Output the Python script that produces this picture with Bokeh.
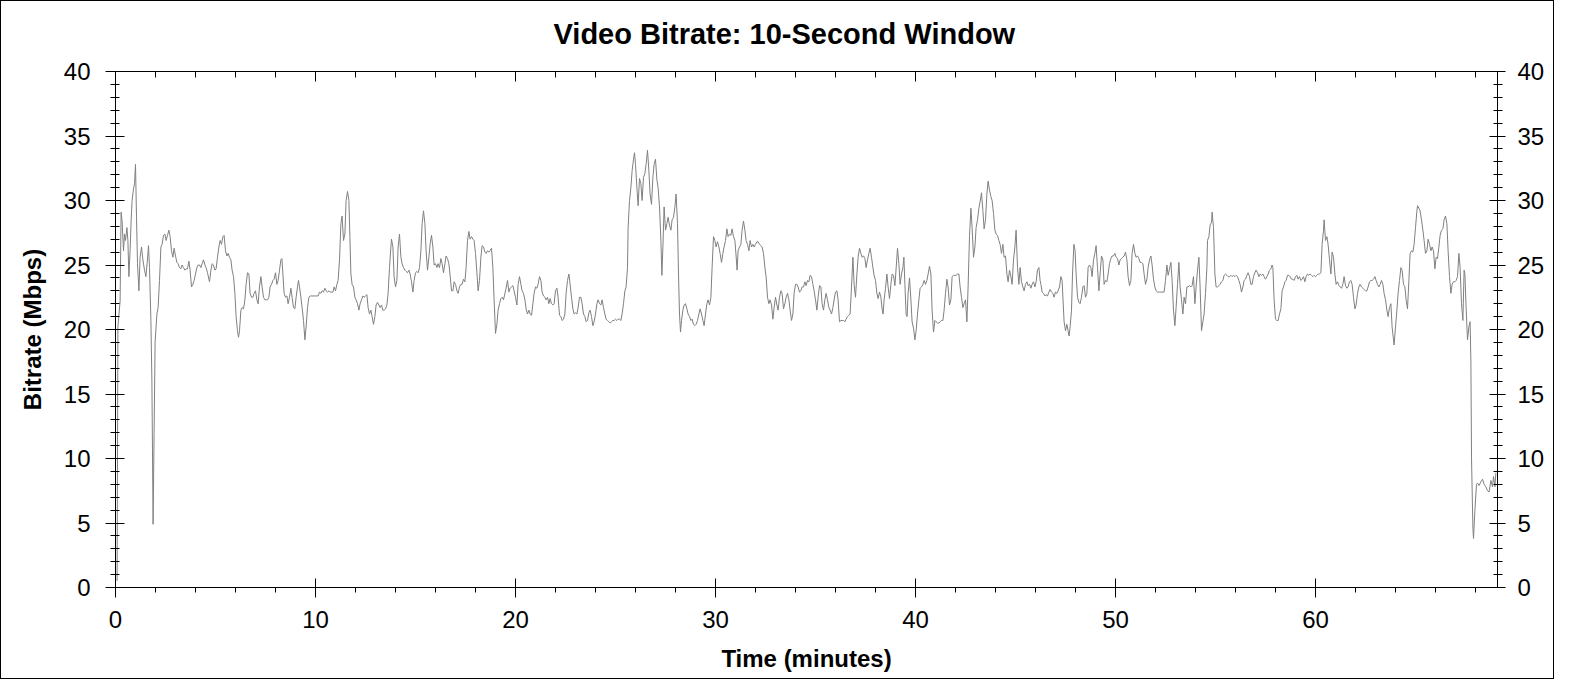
import numpy as np
from bokeh.plotting import figure
from bokeh.models import Range1d, LinearAxis, SingleIntervalTicker, Title
from bokeh.embed import file_html
from bokeh.resources import INLINE

# ---- data (minutes, Mbps) ----
t_00_11 = [
    0.08, 0.12, 0.23, 0.28, 0.33, 0.40, 0.45, 0.50, 0.57, 0.62,
    0.67, 0.73, 0.78, 0.83, 0.90, 0.95, 1.00, 1.05, 1.10, 1.17,
    1.23, 1.30, 1.37, 1.45, 1.52, 1.58, 1.65, 1.70, 1.77, 1.82,
    1.88, 1.93, 1.98, 2.07, 2.13, 2.20, 2.27, 2.33, 2.40, 2.47,
    2.53, 2.60, 2.67, 2.73, 2.80, 2.87, 2.93, 3.00, 3.07, 3.13,
    3.20, 3.27, 3.33, 3.40, 3.47, 3.53, 3.60, 3.67, 3.73, 3.80,
    3.87, 3.93, 4.00, 4.07, 4.13, 4.20, 4.27, 4.33, 4.40, 4.47,
    4.53, 4.60, 4.70, 4.77, 4.83, 4.90, 4.97, 5.03, 5.10, 5.17,
    5.23, 5.30, 5.37, 5.43, 5.50, 5.57, 5.63, 5.70, 5.77, 5.83,
    5.90, 5.97, 6.03, 6.10, 6.15, 6.20, 6.27, 6.33, 6.40, 6.47,
    6.53, 6.60, 6.67, 6.73, 6.80, 6.87, 6.93, 7.00, 7.07, 7.13,
    7.20, 7.27, 7.33, 7.40, 7.47, 7.53, 7.60, 7.67, 7.73, 7.80,
    7.87, 7.93, 8.00, 8.07, 8.13, 8.20, 8.27, 8.32, 8.37, 8.43,
    8.50, 8.57, 8.63, 8.70, 8.77, 8.83, 8.90, 8.97, 9.03, 9.10,
    9.15, 9.20, 9.27, 9.33, 9.40, 9.47, 9.53, 9.60, 9.67, 9.73,
    9.80, 9.93, 10.07, 10.13, 10.20, 10.27, 10.33, 10.40, 10.47, 10.53,
    10.60, 10.67, 10.73, 10.80, 10.87, 10.93, 11.00, 11.07, 11.13, 11.20,
    11.27, 11.33, 11.40,
]
v_00_11 = [
    0.5, 20.2, 22.2, 29.1, 28.4, 26.1, 27.4, 26.9, 27.9, 26.9,
    24.1, 26.1, 28.4, 30.0, 30.9, 31.3, 32.8, 28.7, 25.1, 23.0,
    25.6, 26.4, 25.4, 24.6, 24.1, 25.1, 26.5, 24.8, 20.7, 16.0,
    4.9, 12.0, 19.0, 21.2, 21.7, 23.8, 26.4, 26.6, 27.3, 27.4,
    26.9, 27.3, 27.7, 27.2, 26.1, 25.6, 26.3, 25.7, 25.2, 25.1,
    24.8, 24.7, 25.0, 24.8, 24.6, 24.7, 24.7, 25.3, 24.6, 23.3,
    23.5, 23.8, 24.3, 24.8, 25.0, 25.0, 24.8, 25.1, 25.4, 25.0,
    24.8, 24.4, 23.7, 24.6, 25.1, 25.0, 24.6, 24.7, 25.6, 26.4,
    26.9, 26.6, 27.2, 27.3, 26.1, 25.7, 25.9, 25.6, 25.4, 24.6,
    24.1, 22.8, 21.0, 19.9, 19.4, 19.9, 21.5, 21.7, 21.6, 22.3,
    23.5, 24.4, 24.3, 22.8, 22.5, 22.5, 22.8, 23.0, 22.3, 22.0,
    23.3, 24.1, 23.3, 22.5, 22.3, 22.3, 22.3, 22.5, 23.3, 23.5,
    23.8, 23.9, 24.4, 23.5, 23.8, 24.6, 25.4, 25.5, 24.3, 22.8,
    22.5, 22.6, 22.0, 22.5, 23.2, 22.5, 21.7, 21.6, 22.5, 23.3,
    23.8, 23.3, 22.5, 21.7, 20.7, 19.2, 20.2, 21.7, 22.5, 22.6,
    22.6, 22.6, 22.6, 22.6, 22.9, 22.8, 23.0, 22.9, 23.2, 23.0,
    22.9, 23.0, 22.9, 22.9, 22.9, 23.3, 23.0, 23.5, 23.8, 25.4,
    28.2, 28.8, 26.9,
]

t_11_23 = [
    11.47, 11.53, 11.60, 11.67, 11.72, 11.77, 11.83, 11.90, 11.97, 12.03,
    12.10, 12.17, 12.23, 12.30, 12.37, 12.43, 12.50, 12.57, 12.63, 12.70,
    12.77, 12.83, 12.90, 12.97, 13.03, 13.10, 13.17, 13.23, 13.30, 13.37,
    13.43, 13.50, 13.57, 13.63, 13.70, 13.77, 13.80, 13.87, 13.93, 14.00,
    14.07, 14.13, 14.20, 14.27, 14.33, 14.40, 14.47, 14.53, 14.60, 14.67,
    14.73, 14.80, 14.87, 14.93, 15.00, 15.07, 15.13, 15.20, 15.27, 15.33,
    15.40, 15.47, 15.53, 15.60, 15.67, 15.73, 15.80, 15.87, 15.93, 16.00,
    16.07, 16.13, 16.20, 16.27, 16.33, 16.40, 16.47, 16.53, 16.60, 16.67,
    16.73, 16.80, 16.87, 16.93, 17.00, 17.07, 17.13, 17.20, 17.27, 17.33,
    17.40, 17.47, 17.53, 17.60, 17.67, 17.73, 17.80, 17.87, 17.93, 18.00,
    18.07, 18.13, 18.20, 18.27, 18.33, 18.40, 18.47, 18.53, 18.60, 18.67,
    18.73, 18.80, 18.87, 18.93, 19.00, 19.07, 19.13, 19.20, 19.27, 19.33,
    19.40, 19.47, 19.53, 19.60, 19.67, 19.73, 19.80, 19.87, 19.93, 20.00,
    20.07, 20.13, 20.20, 20.27, 20.33, 20.40, 20.47, 20.53, 20.60, 20.67,
    20.73, 20.80, 20.87, 20.93, 21.00, 21.07, 21.13, 21.20, 21.27, 21.33,
    21.40, 21.47, 21.53, 21.60, 21.67, 21.73, 21.80, 21.87, 21.93, 22.00,
    22.07, 22.13, 22.20, 22.27, 22.33, 22.40, 22.47, 22.53, 22.60, 22.67,
    22.73, 22.80, 22.87, 22.93, 23.00, 23.07,
]
v_11_23 = [
    27.4, 30.0, 30.7, 30.0, 27.2, 24.3, 23.5, 23.3, 22.5, 22.3,
    22.0, 21.5, 22.0, 22.3, 22.6, 22.5, 22.6, 22.7, 21.7, 21.2,
    21.5, 21.0, 20.4, 21.0, 21.9, 22.1, 21.9, 21.7, 21.9, 21.5,
    21.5, 21.6, 21.9, 22.8, 24.8, 26.4, 27.0, 26.4, 24.1, 23.3,
    23.8, 26.4, 27.4, 25.6, 25.1, 24.8, 24.6, 24.5, 24.4, 24.6,
    24.3, 23.7, 22.9, 23.8, 24.4, 24.5, 24.4, 24.8, 26.1, 28.2,
    29.2, 28.2, 26.1, 24.6, 25.6, 26.6, 27.3, 26.4, 25.0, 25.1,
    24.8, 25.1, 24.8, 25.5, 25.1, 24.4, 25.1, 25.7, 25.5, 25.1,
    24.2, 23.0, 23.0, 23.7, 23.5, 23.0, 22.8, 23.3, 23.5, 23.5,
    23.9, 23.7, 24.8, 26.9, 27.6, 27.0, 27.2, 27.0, 26.9, 25.9,
    24.4, 23.0, 23.8, 25.6, 26.5, 26.4, 26.0, 25.9, 26.1, 26.0,
    26.1, 26.3, 24.8, 22.3, 19.7, 20.4, 21.5, 22.0, 22.4, 22.5,
    22.3, 22.8, 23.2, 23.8, 22.9, 23.2, 23.3, 23.4, 23.0, 22.5,
    21.9, 23.5, 24.1, 23.5, 23.0, 22.8, 22.3, 21.6, 21.2, 21.5,
    21.2, 21.1, 22.0, 22.8, 23.3, 23.2, 23.5, 24.1, 23.8, 22.9,
    22.6, 22.5, 22.3, 22.5, 22.0, 22.4, 22.0, 21.9, 22.0, 23.0,
    23.2, 22.5, 21.1, 21.0, 20.7, 20.8, 21.2, 22.8, 23.8, 24.3,
    23.5, 22.5, 21.6, 21.2, 21.3, 21.2,
]

t_23_35 = [
    23.13, 23.20, 23.27, 23.33, 23.40, 23.47, 23.53, 23.60, 23.67, 23.73,
    23.80, 23.87, 23.93, 24.00, 24.07, 24.13, 24.20, 24.27, 24.33, 24.40,
    24.47, 24.53, 24.60, 24.67, 24.73, 24.80, 24.87, 24.93, 25.00, 25.07,
    25.13, 25.20, 25.27, 25.33, 25.40, 25.47, 25.53, 25.60, 25.63, 25.70,
    25.77, 25.83, 25.90, 25.95, 26.00, 26.07, 26.13, 26.20, 26.27, 26.33,
    26.40, 26.47, 26.53, 26.60, 26.67, 26.73, 26.80, 26.87, 26.93, 27.00,
    27.07, 27.13, 27.20, 27.27, 27.32, 27.37, 27.43, 27.50, 27.57, 27.63,
    27.70, 27.77, 27.83, 27.90, 27.97, 28.03, 28.10, 28.15, 28.20, 28.25,
    28.30, 28.37, 28.43, 28.50, 28.57, 28.63, 28.70, 28.77, 28.83, 28.90,
    28.97, 29.03, 29.10, 29.17, 29.23, 29.30, 29.37, 29.43, 29.50, 29.57,
    29.63, 29.70, 29.77, 29.83, 29.90, 29.97, 30.03, 30.10, 30.17, 30.23,
    30.30, 30.37, 30.43, 30.50, 30.57, 30.63, 30.70, 30.77, 30.83, 30.90,
    30.97, 31.03, 31.08, 31.13, 31.20, 31.27, 31.33, 31.40, 31.47, 31.53,
    31.60, 31.67, 31.73, 31.80, 31.87, 31.93, 32.00, 32.07, 32.13, 32.20,
    32.27, 32.33, 32.40, 32.47, 32.53, 32.60, 32.67, 32.73, 32.80, 32.87,
    32.93, 33.00, 33.07, 33.13, 33.20, 33.27, 33.33, 33.40, 33.47, 33.53,
    33.60, 33.67, 33.73, 33.80, 33.87, 33.93, 34.00, 34.07, 34.13, 34.20,
    34.27, 34.33, 34.40, 34.47, 34.53, 34.60, 34.67,
]
v_23_35 = [
    21.7, 22.5, 22.5, 22.0, 21.2, 21.0, 20.6, 20.7, 21.3, 21.5,
    21.0, 20.3, 20.6, 21.2, 22.0, 22.3, 22.0, 21.9, 22.3, 21.7,
    21.2, 20.8, 20.7, 20.6, 20.5, 20.6, 20.7, 20.7, 20.8, 20.7,
    20.8, 20.8, 20.7, 21.2, 22.0, 23.0, 23.3, 24.8, 27.9, 30.0,
    31.0, 32.3, 33.2, 33.7, 32.8, 31.0, 29.6, 31.7, 31.3, 30.0,
    31.8, 32.1, 32.8, 33.9, 32.3, 30.5, 29.7, 31.8, 32.8, 33.2,
    31.6, 31.0, 29.5, 26.9, 24.2, 26.4, 29.5, 27.7, 28.2, 28.7,
    28.1, 27.7, 28.5, 28.7, 29.5, 30.5, 28.2, 24.3, 21.2, 19.8,
    20.7, 21.5, 21.9, 22.0, 21.6, 21.2, 21.0, 20.7, 20.8, 20.4,
    20.3, 20.4, 20.7, 21.2, 21.6, 21.2, 20.7, 20.3, 21.2, 22.0,
    22.3, 21.9, 22.5, 24.8, 27.2, 26.9, 26.4, 26.8, 26.4, 25.9,
    25.2, 25.9, 26.4, 26.9, 27.8, 27.2, 27.4, 27.3, 27.8, 27.2,
    26.9, 25.7, 24.6, 26.1, 26.4, 26.6, 27.7, 28.4, 27.7, 26.9,
    26.6, 26.1, 26.9, 26.4, 26.6, 26.4, 26.6, 26.8, 26.8, 26.6,
    26.5, 26.4, 25.9, 24.8, 24.1, 22.5, 22.0, 22.3, 21.9, 20.8,
    21.7, 22.5, 21.9, 21.5, 22.5, 23.0, 22.8, 21.6, 22.0, 22.5,
    22.8, 22.3, 21.5, 20.7, 21.2, 22.8, 23.5, 23.5, 23.3, 22.9,
    23.0, 23.3, 23.3, 23.7, 23.4, 23.8, 23.7,
]

t_35_46 = [
    34.73, 34.80, 34.87, 34.93, 35.00, 35.07, 35.13, 35.20, 35.27, 35.33,
    35.40, 35.47, 35.53, 35.60, 35.67, 35.73, 35.80, 35.87, 35.93, 36.00,
    36.07, 36.13, 36.20, 36.27, 36.33, 36.40, 36.47, 36.53, 36.60, 36.67,
    36.73, 36.80, 36.87, 36.93, 37.00, 37.07, 37.13, 37.20, 37.27, 37.33,
    37.40, 37.47, 37.53, 37.60, 37.67, 37.73, 37.80, 37.87, 37.93, 38.00,
    38.07, 38.13, 38.20, 38.27, 38.33, 38.38, 38.43, 38.50, 38.57, 38.63,
    38.70, 38.77, 38.83, 38.90, 38.97, 39.03, 39.10, 39.17, 39.23, 39.30,
    39.37, 39.42, 39.47, 39.53, 39.58, 39.63, 39.70, 39.77, 39.83, 39.90,
    39.97, 40.03, 40.10, 40.17, 40.23, 40.30, 40.37, 40.43, 40.50, 40.57,
    40.63, 40.70, 40.77, 40.83, 40.90, 40.97, 41.03, 41.10, 41.17, 41.23,
    41.30, 41.37, 41.43, 41.50, 41.57, 41.63, 41.70, 41.77, 41.83, 41.90,
    41.97, 42.03, 42.10, 42.17, 42.23, 42.30, 42.37, 42.43, 42.50, 42.57,
    42.63, 42.70, 42.77, 42.83, 42.90, 42.97, 43.03, 43.10, 43.17, 43.23,
    43.30, 43.37, 43.43, 43.50, 43.57, 43.63, 43.70, 43.77, 43.83, 43.90,
    43.97, 44.03, 44.10, 44.17, 44.23, 44.30, 44.37, 44.43, 44.50, 44.57,
    44.63, 44.70, 44.77, 44.83, 44.90, 44.97, 45.03, 45.10, 45.17, 45.23,
    45.30, 45.37, 45.43, 45.50, 45.57, 45.63, 45.70, 45.77, 45.83, 45.90,
    45.97, 46.03, 46.10, 46.17, 46.23, 46.27,
]
v_35_46 = [
    24.2, 24.1, 23.5, 23.0, 22.3, 21.5, 22.5, 23.4, 23.3, 22.0,
    21.5, 22.3, 22.8, 22.3, 21.7, 21.5, 21.2, 21.7, 22.3, 22.9,
    23.0, 22.3, 20.6, 20.7, 20.7, 20.7, 20.6, 20.8, 21.0, 21.1,
    21.2, 23.3, 25.6, 23.5, 22.5, 24.3, 25.6, 26.3, 25.9, 25.6,
    25.7, 25.5, 24.8, 25.4, 25.9, 26.3, 25.6, 24.8, 24.2, 23.8,
    22.8, 22.4, 22.9, 22.5, 21.6, 21.2, 22.3, 23.2, 24.3, 23.3,
    22.4, 23.5, 24.3, 24.2, 23.4, 24.7, 26.3, 25.1, 23.5, 24.3,
    24.8, 25.6, 23.5, 21.2, 21.0, 22.8, 24.0, 22.3, 20.6, 20.1,
    19.2, 19.9, 21.2, 22.3, 23.2, 23.3, 23.5, 23.8, 23.5, 23.8,
    24.3, 24.9, 24.3, 21.5, 19.8, 20.7, 20.6, 20.5, 20.5, 20.6,
    20.7, 20.7, 21.5, 22.8, 23.9, 23.3, 21.9, 22.3, 24.1, 24.2,
    24.2, 24.2, 24.3, 24.3, 23.3, 22.5, 21.7, 22.0, 22.3, 20.6,
    23.3, 27.2, 29.4, 27.9, 25.6, 26.4, 27.9, 28.5, 29.4, 29.9,
    30.6, 29.2, 27.8, 28.5, 30.5, 31.5, 30.8, 30.3, 30.0, 29.0,
    27.7, 27.4, 27.3, 26.9, 26.6, 25.9, 26.6, 25.6, 25.7, 24.3,
    23.7, 24.6, 24.1, 23.5, 25.4, 26.4, 27.7, 24.8, 23.5, 24.8,
    23.7, 23.3, 23.0, 23.5, 23.7, 23.4, 23.5, 23.2, 23.5, 23.7,
    23.3, 23.7, 24.6, 24.8, 23.8, 23.5,
]

t_46_58 = [
    46.33, 46.40, 46.47, 46.53, 46.60, 46.67, 46.73, 46.80, 46.87, 46.93,
    47.00, 47.07, 47.13, 47.20, 47.27, 47.33, 47.37, 47.43, 47.50, 47.57,
    47.63, 47.68, 47.73, 47.80, 47.85, 47.92, 47.98, 48.03, 48.10, 48.17,
    48.23, 48.30, 48.37, 48.43, 48.50, 48.57, 48.63, 48.70, 48.77, 48.83,
    48.90, 48.97, 49.03, 49.10, 49.17, 49.23, 49.30, 49.37, 49.43, 49.50,
    49.57, 49.63, 49.70, 49.77, 49.83, 49.90, 49.97, 50.03, 50.10, 50.17,
    50.23, 50.30, 50.37, 50.43, 50.50, 50.57, 50.63, 50.70, 50.77, 50.83,
    50.90, 50.97, 51.03, 51.10, 51.17, 51.23, 51.30, 51.37, 51.43, 51.50,
    51.57, 51.63, 51.70, 51.77, 51.83, 51.90, 51.97, 52.03, 52.10, 52.20,
    52.30, 52.43, 52.50, 52.57, 52.63, 52.70, 52.77, 52.83, 52.90, 52.97,
    53.03, 53.10, 53.17, 53.23, 53.30, 53.37, 53.43, 53.50, 53.57, 53.63,
    53.70, 53.77, 53.83, 53.90, 53.97, 54.03, 54.10, 54.17, 54.23, 54.30,
    54.37, 54.43, 54.50, 54.57, 54.60, 54.67, 54.73, 54.80, 54.83, 54.90,
    54.97, 55.03, 55.10, 55.17, 55.23, 55.30, 55.37, 55.43, 55.50, 55.57,
    55.63, 55.70, 55.77, 55.83, 55.90, 55.97, 56.03, 56.10, 56.17, 56.23,
    56.30, 56.37, 56.43, 56.50, 56.57, 56.63, 56.70, 56.77, 56.83, 56.90,
    56.97, 57.03, 57.10, 57.17, 57.23, 57.30, 57.37, 57.43, 57.50, 57.57,
    57.63, 57.70, 57.77, 57.83,
]
v_46_58 = [
    22.9, 22.8, 22.6, 22.7, 22.6, 22.9, 23.1, 22.9, 22.8, 22.5,
    22.9, 22.8, 23.0, 23.3, 24.1, 23.8, 22.5, 20.6, 19.9, 20.4,
    19.9, 19.5, 20.2, 21.5, 24.3, 26.6, 26.1, 24.3, 22.5, 22.1,
    22.0, 22.5, 23.3, 23.4, 22.5, 22.8, 24.8, 25.0, 24.8, 24.1,
    25.4, 25.9, 26.5, 24.8, 23.0, 24.3, 25.7, 25.4, 23.5, 23.8,
    23.7, 24.3, 25.1, 25.5, 25.7, 25.7, 25.9, 25.6, 25.5, 25.0,
    25.4, 25.5, 25.6, 25.7, 26.0, 25.4, 24.1, 23.4, 23.8, 25.9,
    26.6, 25.9, 25.6, 25.7, 25.5, 25.2, 25.2, 25.1, 24.3, 23.5,
    23.9, 24.8, 25.4, 25.7, 25.0, 23.9, 23.3, 23.0, 22.9, 22.9,
    22.9, 22.9, 23.8, 25.0, 24.2, 24.7, 25.2, 23.8, 21.5, 20.3,
    21.7, 23.5, 25.2, 23.3, 22.3, 21.2, 22.5, 22.0, 23.3, 23.3,
    23.4, 23.3, 23.4, 24.1, 22.0, 23.3, 24.6, 25.6, 23.3, 19.9,
    20.6, 21.2, 22.8, 24.8, 26.9, 27.2, 28.1, 28.3, 29.1, 27.9,
    24.3, 23.3, 23.3, 23.4, 23.5, 23.7, 23.8, 24.2, 24.3, 24.2,
    24.1, 24.1, 24.2, 24.1, 24.2, 24.1, 24.2, 24.1, 23.8, 23.5,
    22.9, 23.3, 23.8, 23.9, 24.2, 24.4, 24.1, 23.5, 23.5, 24.1,
    24.4, 24.6, 24.4, 24.1, 24.3, 24.2, 24.3, 24.1, 23.9, 24.1,
    24.3, 24.6, 24.7, 25.0,
]

t_58_69 = [
    57.87, 57.93, 58.00, 58.07, 58.13, 58.20, 58.27, 58.33, 58.40, 58.47,
    58.53, 58.60, 58.67, 58.73, 58.80, 58.87, 58.93, 59.00, 59.07, 59.13,
    59.20, 59.27, 59.33, 59.40, 59.47, 59.53, 59.60, 59.67, 59.73, 59.80,
    59.87, 59.93, 60.00, 60.07, 60.13, 60.20, 60.27, 60.33, 60.40, 60.43,
    60.50, 60.57, 60.63, 60.70, 60.77, 60.83, 60.90, 60.97, 61.03, 61.10,
    61.17, 61.23, 61.30, 61.37, 61.43, 61.50, 61.57, 61.63, 61.70, 61.77,
    61.83, 61.90, 61.97, 62.03, 62.10, 62.17, 62.23, 62.30, 62.37, 62.43,
    62.50, 62.57, 62.63, 62.70, 62.77, 62.83, 62.90, 62.97, 63.03, 63.10,
    63.17, 63.23, 63.30, 63.37, 63.43, 63.50, 63.57, 63.63, 63.70, 63.77,
    63.83, 63.90, 63.93, 64.00, 64.07, 64.13, 64.20, 64.27, 64.33, 64.40,
    64.47, 64.53, 64.60, 64.67, 64.73, 64.80, 64.87, 64.93, 65.00, 65.07,
    65.10, 65.17, 65.23, 65.30, 65.37, 65.43, 65.50, 65.57, 65.63, 65.70,
    65.77, 65.83, 65.90, 65.97, 66.03, 66.10, 66.17, 66.23, 66.30, 66.37,
    66.43, 66.50, 66.57, 66.63, 66.70, 66.77, 66.83, 66.90, 66.97, 67.03,
    67.10, 67.17, 67.23, 67.30, 67.37, 67.43, 67.47, 67.53, 67.60, 67.67,
    67.73, 67.77, 67.80, 67.87, 67.90, 67.97, 68.05, 68.10, 68.18, 68.27,
    68.35, 68.43, 68.52, 68.60, 68.68, 68.77, 68.85, 68.90, 68.97, 69.02,
]
v_58_69 = [
    24.8, 22.3, 20.8, 20.7, 20.7, 21.2, 21.6, 23.0, 23.3, 23.7,
    23.8, 24.2, 24.2, 24.1, 23.9, 23.9, 23.8, 24.1, 24.2, 23.9,
    24.1, 23.8, 23.9, 24.1, 23.7, 24.1, 24.3, 24.2, 24.3, 24.2,
    24.1, 24.2, 24.1, 24.2, 24.3, 24.3, 24.4, 26.6, 27.7, 28.5,
    26.9, 27.2, 26.6, 25.4, 24.3, 26.0, 25.6, 24.3, 23.5, 23.7,
    23.4, 23.3, 23.2, 23.5, 24.1, 23.4, 23.2, 23.3, 23.7, 23.8,
    23.5, 22.5, 21.6, 21.9, 22.8, 23.3, 23.5, 23.3, 23.2, 23.1,
    23.0, 23.0, 23.3, 23.7, 23.8, 23.8, 23.9, 24.1, 23.8, 23.5,
    23.3, 23.5, 23.8, 23.5, 22.8, 22.3, 21.5, 21.0, 21.7, 22.0,
    20.2, 19.2, 18.8, 20.2, 21.5, 22.8, 23.8, 24.8, 24.6, 23.5,
    23.3, 22.3, 21.6, 23.8, 25.9, 26.1, 26.0, 26.6, 27.9, 29.2,
    29.6, 29.4, 29.2, 28.5, 27.7, 26.9, 25.9, 26.1, 27.0, 26.6,
    26.1, 26.4, 26.1, 24.7, 25.6, 25.5, 26.4, 27.3, 27.7, 27.8,
    28.5, 28.8, 28.2, 26.1, 24.1, 22.8, 23.5, 23.7, 23.7, 23.8,
    24.1, 25.9, 24.8, 22.0, 20.7, 24.6, 24.3, 21.7, 19.2, 20.2,
    20.6, 17.5, 10.1, 4.6, 3.8, 6.0, 8.0, 8.1, 7.9, 8.2,
    8.4, 8.0, 7.8, 7.5, 7.4, 8.3, 7.8, 8.6, 7.8, 8.9,
]

x_limits = (0, 69.1)
y_limits = (0, 40)
x_major_step = 10
x_minor_step = 2
y_major_step = 5
title_text = "Video Bitrate: 10-Second Window"
x_label = "Time (minutes)"
y_label = "Bitrate (Mbps)"

time_min = t_00_11 + t_11_23 + t_23_35 + t_35_46 + t_46_58 + t_58_69
bitrate_mbps = v_00_11 + v_11_23 + v_23_35 + v_35_46 + v_46_58 + v_58_69
n = min(len(time_min), len(bitrate_mbps))
if len(time_min) != len(bitrate_mbps):
    print("length mismatch", len(time_min), len(bitrate_mbps))
time_min, bitrate_mbps = time_min[:n], bitrate_mbps[:n]

FONT = "Liberation Sans"
W, H = 1554, 679
ML, MT, MR, MB = 114, 70, 58, 93
FRAME_H = H - MT - MB

p = figure(
    width=W, height=H,
    output_backend="svg", toolbar_location=None,
    x_range=Range1d(*x_limits), y_range=Range1d(*y_limits),
    min_border_left=ML, min_border_right=MR,
    min_border_top=MT, min_border_bottom=MB,
    x_axis_label=x_label, y_axis_label=y_label,
    background_fill_color="white", border_fill_color="white",
    styles={"border": "1px solid black"},
)
p.grid.visible = False
p.outline_line_color = "black"
p.outline_line_width = 1

xt = SingleIntervalTicker(interval=x_major_step, num_minor_ticks=5)
yt = SingleIntervalTicker(interval=y_major_step, num_minor_ticks=5)


def style_axis(ax, mi, mo, ni, no, standoff):
    ax.axis_line_color = "black"
    ax.axis_line_width = 1
    ax.major_tick_line_color = "black"
    ax.minor_tick_line_color = "black"
    ax.major_tick_in = mi
    ax.major_tick_out = mo
    ax.minor_tick_in = ni
    ax.minor_tick_out = no
    ax.major_label_text_font = FONT
    ax.major_label_text_font_size = "24px"
    ax.major_label_text_color = "black"
    ax.major_label_standoff = standoff
    ax.axis_label_text_font = FONT
    ax.axis_label_text_font_size = "24px"
    ax.axis_label_text_font_style = "bold"
    ax.axis_label_text_color = "black"


bx = p.xaxis[0]
bx.ticker = xt
style_axis(bx, 9, 10, 0, 5, 13)
bx.axis_label_standoff = 14

ly = p.yaxis[0]
ly.ticker = yt
style_axis(ly, 9, 10, 4, 5, 15)
ly.axis_label_standoff = 15

right = LinearAxis(ticker=yt)
style_axis(right, 8, 8, 4, 5, 12)
p.add_layout(right, "right")

p.title = Title(text=title_text, align="left", offset=438, standoff=10,
                padding=dict(left=0, right=0, top=0, bottom=17),
                text_font=FONT, text_font_size="29px", text_font_style="bold",
                text_color="black")

# inward tick marks along the top edge of the frame
px_to_y = (y_limits[1] - y_limits[0]) / FRAME_H
top_major = np.arange(x_limits[0], x_limits[1], x_major_step)
top_minor = np.array([v for v in np.arange(x_limits[0], x_limits[1], x_minor_step)
                      if v % x_major_step != 0])
p.segment(x0=top_major, y0=y_limits[1], x1=top_major, y1=y_limits[1] - 10 * px_to_y,
          line_color="black", line_width=1)
p.segment(x0=top_minor, y0=y_limits[1], x1=top_minor, y1=y_limits[1] - 6 * px_to_y,
          line_color="black", line_width=1)

p.line(time_min, bitrate_mbps, line_color="#808080", line_width=1)

open("out.html", "w").write(file_html(p, INLINE))
